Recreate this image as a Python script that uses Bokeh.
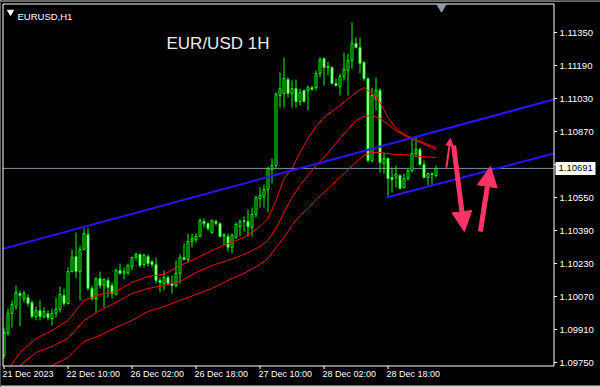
from bokeh.plotting import figure
from bokeh.models import Range1d, ColumnDataSource, Arrow, NormalHead
from bokeh.core.properties import value
from bokeh.embed import file_html
from bokeh.resources import INLINE

# ---------------- data (hourly EURUSD candles, bar index 0..108) ----------------
opens = [1.09784, 1.09891, 1.09988, 1.10022, 1.10084, 1.10060, 1.10065, 1.10041, 1.09973, 1.10002,
         1.09973, 1.09988, 1.09963, 1.09988, 1.10007, 1.10075, 1.10036, 1.10191, 1.10264, 1.10191,
         1.10298, 1.10371, 1.10109, 1.10060, 1.10157, 1.10123, 1.10148, 1.10123, 1.10080, 1.10196,
         1.10182, 1.10186, 1.10215, 1.10259, 1.10274, 1.10225, 1.10264, 1.10240, 1.10225, 1.10148,
         1.10133, 1.10162, 1.10133, 1.10123, 1.10182, 1.10259, 1.10249, 1.10337, 1.10346, 1.10361,
         1.10434, 1.10424, 1.10380, 1.10434, 1.10424, 1.10361, 1.10361, 1.10308, 1.10356, 1.10409,
         1.10434, 1.10434, 1.10405, 1.10468, 1.10545, 1.10555, 1.10589, 1.10686, 1.10705, 1.11045,
         1.11054, 1.11122, 1.11054, 1.11078, 1.11015, 1.11069, 1.11069, 1.11083, 1.11083, 1.11151,
         1.11224, 1.11185, 1.11180, 1.11103, 1.11088, 1.11137, 1.11166, 1.11214, 1.11297, 1.11277,
         1.11205, 1.11127, 1.10729, 1.11030, 1.11069, 1.10715, 1.10739, 1.10647, 1.10647, 1.10657,
         1.10598, 1.10642, 1.10681, 1.10763, 1.10783, 1.10710, 1.10647, 1.10666, 1.10657]
highs = [1.09915, 1.10012, 1.10051, 1.10123, 1.10099, 1.10099, 1.10080, 1.10051, 1.10022, 1.10051,
         1.10017, 1.10002, 1.10012, 1.10065, 1.10118, 1.10109, 1.10211, 1.10298, 1.10380, 1.10317,
         1.10400, 1.10400, 1.10123, 1.10162, 1.10191, 1.10157, 1.10162, 1.10138, 1.10206, 1.10230,
         1.10211, 1.10230, 1.10264, 1.10283, 1.10278, 1.10278, 1.10274, 1.10245, 1.10259, 1.10162,
         1.10196, 1.10172, 1.10172, 1.10245, 1.10274, 1.10327, 1.10375, 1.10375, 1.10375, 1.10448,
         1.10448, 1.10429, 1.10443, 1.10443, 1.10429, 1.10375, 1.10375, 1.10375, 1.10429, 1.10443,
         1.10458, 1.10492, 1.10501, 1.10560, 1.10598, 1.10613, 1.10700, 1.10739, 1.11059, 1.11156,
         1.11229, 1.11132, 1.11117, 1.11122, 1.11078, 1.11074, 1.11093, 1.11093, 1.11166, 1.11229,
         1.11229, 1.11209, 1.11185, 1.11127, 1.11151, 1.11253, 1.11248, 1.11399, 1.11326, 1.11326,
         1.11210, 1.11132, 1.11083, 1.11132, 1.11079, 1.10768, 1.10744, 1.10695, 1.10705, 1.10662,
         1.10666, 1.10686, 1.10841, 1.10846, 1.10792, 1.10729, 1.10671, 1.10671, 1.10705]
lows = [1.09769, 1.09881, 1.09920, 1.10007, 1.09925, 1.10041, 1.10022, 1.09963, 1.09954, 1.09954,
        1.09963, 1.09954, 1.09929, 1.09968, 1.09992, 1.10022, 1.10031, 1.10186, 1.10157, 1.10051,
        1.10293, 1.10099, 1.10051, 1.09992, 1.10109, 1.10017, 1.10065, 1.10060, 1.10075, 1.10177,
        1.10152, 1.10172, 1.10196, 1.10245, 1.10211, 1.10211, 1.10215, 1.10211, 1.10133, 1.10089,
        1.10099, 1.10128, 1.10084, 1.10114, 1.10133, 1.10245, 1.10235, 1.10308, 1.10332, 1.10356,
        1.10405, 1.10390, 1.10375, 1.10414, 1.10356, 1.10317, 1.10288, 1.10278, 1.10351, 1.10361,
        1.10385, 1.10361, 1.10361, 1.10453, 1.10501, 1.10501, 1.10477, 1.10618, 1.10695, 1.10986,
        1.10986, 1.11035, 1.10986, 1.10986, 1.10996, 1.11011, 1.10972, 1.11069, 1.11069, 1.11132,
        1.11093, 1.11142, 1.11098, 1.11088, 1.11045, 1.11117, 1.11045, 1.11175, 1.11272, 1.11151,
        1.11117, 1.10720, 1.10720, 1.10972, 1.10671, 1.10666, 1.10550, 1.10574, 1.10598, 1.10589,
        1.10594, 1.10632, 1.10671, 1.10744, 1.10705, 1.10642, 1.10608, 1.10608, 1.10647]
closes = [1.09896, 1.09988, 1.10031, 1.10089, 1.10075, 1.10084, 1.10036, 1.09973, 1.10002, 1.09973,
          1.09997, 1.09968, 1.09988, 1.10007, 1.10080, 1.10036, 1.10191, 1.10259, 1.10191, 1.10298,
          1.10375, 1.10109, 1.10060, 1.10157, 1.10123, 1.10152, 1.10114, 1.10084, 1.10196, 1.10182,
          1.10191, 1.10220, 1.10259, 1.10274, 1.10220, 1.10269, 1.10230, 1.10225, 1.10148, 1.10138,
          1.10162, 1.10133, 1.10123, 1.10182, 1.10259, 1.10249, 1.10337, 1.10351, 1.10361, 1.10438,
          1.10424, 1.10400, 1.10438, 1.10424, 1.10361, 1.10371, 1.10308, 1.10366, 1.10419, 1.10434,
          1.10438, 1.10409, 1.10468, 1.10550, 1.10560, 1.10589, 1.10691, 1.10705, 1.11049, 1.11078,
          1.11127, 1.11054, 1.11078, 1.11015, 1.11059, 1.11015, 1.11083, 1.11074, 1.11151, 1.11219,
          1.11180, 1.11180, 1.11103, 1.11093, 1.11137, 1.11171, 1.11214, 1.11297, 1.11277, 1.11200,
          1.11127, 1.10729, 1.11045, 1.11069, 1.10720, 1.10739, 1.10642, 1.10637, 1.10662, 1.10594,
          1.10642, 1.10681, 1.10763, 1.10783, 1.10710, 1.10647, 1.10666, 1.10662, 1.10691]
bars = list(range(len(closes)))

# moving-average lines (bar index -> price)
ma_bars = [0, 4, 8, 12, 16, 20, 24, 28, 32, 36, 40, 44, 48, 52, 56, 60, 64, 66, 68, 70,
           72, 74, 76, 78, 80, 84, 88, 90, 92, 94, 96, 98, 100, 104, 108]
ma_fast = [1.09687, 1.09798, 1.09866, 1.09905, 1.09954, 1.10051, 1.10080, 1.10094, 1.10138, 1.10167,
           1.10177, 1.10220, 1.10254, 1.10293, 1.10327, 1.10356, 1.10409, 1.10448, 1.10535, 1.10642,
           1.10691, 1.10768, 1.10836, 1.10894, 1.10938, 1.10996, 1.11059, 1.11083, 1.11054, 1.11011,
           1.10938, 1.10885, 1.10856, 1.10822, 1.10792]
ma_mid = [1.09614, 1.09735, 1.09798, 1.09828, 1.09866, 1.09954, 1.10002, 1.10041, 1.10084, 1.10109,
          1.10123, 1.10143, 1.10186, 1.10220, 1.10245, 1.10274, 1.10312, 1.10342, 1.10400, 1.10477,
          1.10550, 1.10608, 1.10657, 1.10705, 1.10744, 1.10836, 1.10923, 1.10943, 1.10948, 1.10933,
          1.10904, 1.10875, 1.10851, 1.10817, 1.10783]
ma_slow = [1.09469, 1.09566, 1.09663, 1.09735, 1.09774, 1.09852, 1.09881, 1.09920, 1.09954, 1.09997,
           1.10021, 1.10051, 1.10080, 1.10109, 1.10148, 1.10182, 1.10225, 1.10254, 1.10308, 1.10356,
           1.10414, 1.10463, 1.10497, 1.10540, 1.10574, 1.10647, 1.10720, 1.10754, 1.10768, 1.10768,
           1.10763, 1.10758, 1.10758, 1.10749, 1.10744]

# channel lines (bar index, price)
upper_line_x = [-0.1, 137.4]
upper_line_y = [1.10302, 1.11025]
lower_line_x = [95.6, 137.4]
lower_line_y = [1.10550, 1.10763]

# arrows (bar index, price): start -> end
arrow_small = [110.6, 1.10695, 111.6, 1.10836]
arrow_down = [112.4, 1.10802, 115.1, 1.10385]
arrow_up = [119.1, 1.10385, 121.6, 1.10700]

last_price = 1.10691
ytick_values = [1.09750, 1.09910, 1.10070, 1.10230, 1.10390, 1.10550, 1.10710,
                1.10870, 1.11030, 1.11190, 1.11350]
xtick_bars = [0, 16, 32, 48, 64, 80, 96]
xtick_labels = ["21 Dec 2023", "22 Dec 10:00", "26 Dec 02:00", "26 Dec 18:00",
                "27 Dec 10:00", "28 Dec 02:00", "28 Dec 18:00"]

# ---------------- geometry (the whole canvas is the data frame) ----------------
W, H = 600, 387
PX_PER_BAR = 4.0
BAR0_PX = 3.5
PX_PER_PRICE = 20625.0
REF_PRICE, REF_PY = 1.0975, 362.0


def bx(px):
    """canvas x pixel -> bar coordinate"""
    return (px - BAR0_PX) / PX_PER_BAR


def pr(py):
    """canvas y pixel -> price coordinate"""
    return REF_PRICE + (REF_PY - py) / PX_PER_PRICE


CL, CR, CT, CB = 2.5, 553.5, 3.5, 365.5   # chart box edges (px)

p = figure(width=W, height=H, x_range=Range1d(bx(0), bx(W)), y_range=Range1d(pr(H), pr(0)),
           output_backend="svg", toolbar_location=None, x_axis_type=None, y_axis_type=None,
           min_border=0)
p.background_fill_color = "black"
p.border_fill_color = "black"
p.outline_line_color = None
p.grid.visible = False

# current price line
p.segment(x0=[bx(CL)], y0=[last_price], x1=[bx(CR)], y1=[last_price],
          line_color="#7f8ea3", line_width=1)

# candles
up = [c >= o for o, c in zip(opens, closes)]
src = ColumnDataSource(dict(
    x=bars, h=highs, l=lows,
    top=[max(o, c) for o, c in zip(opens, closes)],
    bot=[min(o, c) for o, c in zip(opens, closes)],
    fill=["black" if u else "white" for u in up],
))
p.segment(x0="x", y0="l", x1="x", y1="h", source=src, line_color="#00ff00", line_width=1)
p.vbar(x="x", width=0.5, top="top", bottom="bot", source=src, fill_color="fill",
       line_color="#00ff00", line_width=1)

# moving averages
for ma in (ma_fast, ma_mid, ma_slow):
    p.line(ma_bars, ma, line_color="#ff0000", line_width=1)

# channel
p.line(upper_line_x, upper_line_y, line_color="#2a14ff", line_width=2)
p.line(lower_line_x, lower_line_y, line_color="#2a14ff", line_width=2)

# mask everything outside the chart box
p.quad(left=[bx(0), bx(CR), bx(0), bx(0)], right=[bx(CL), bx(W), bx(W), bx(W)],
       bottom=[pr(H), pr(H), pr(H), pr(CT)], top=[pr(0), pr(0), pr(CB), pr(0)],
       fill_color="black", line_color=None)
# thin window bands at the very top / bottom
p.quad(left=[bx(0)], right=[bx(W)], bottom=[pr(1.5)], top=[pr(0)],
       fill_color="#6f6f6f", line_color=None)
p.quad(left=[bx(0)], right=[bx(W)], bottom=[pr(H)], top=[pr(H - 2)],
       fill_color="#d0d0d0", line_color=None)

# chart frame
p.quad(left=[bx(CL)], right=[bx(CR)], bottom=[pr(CB)], top=[pr(CT)],
       fill_color=None, line_color="white", line_width=1)

# price-scale ticks and labels
p.segment(x0=[bx(CR)] * len(ytick_values), y0=ytick_values,
          x1=[bx(CR + 3)] * len(ytick_values), y1=ytick_values,
          line_color="white", line_width=1)
p.text(x=[bx(559)] * len(ytick_values), y=ytick_values,
       text=["%.5f" % v for v in ytick_values], text_color="white",
       text_font=value("Liberation Sans"), text_font_size=value("9.5px"),
       text_align="left", text_baseline="middle")

# time-scale ticks and labels
p.segment(x0=xtick_bars, y0=[pr(CB)] * len(xtick_bars),
          x1=xtick_bars, y1=[pr(CB + 3)] * len(xtick_bars),
          line_color="white", line_width=1)
p.text(x=[b - 0.4 for b in xtick_bars], y=[pr(368.5)] * len(xtick_bars), text=xtick_labels,
       text_color="white", text_font=value("Liberation Sans"),
       text_font_size=value("9px"), text_align="left", text_baseline="top")

# current price box on the price scale
p.quad(left=[bx(555)], right=[bx(595)], bottom=[last_price - 6.5 / PX_PER_PRICE],
       top=[last_price + 6.5 / PX_PER_PRICE], fill_color="white", line_color=None)
p.text(x=[bx(558)], y=[last_price], text=["%.5f" % last_price], text_color="black",
       text_font=value("Liberation Sans"), text_font_size=value("9.5px"),
       text_align="left", text_baseline="middle")

# arrows
acol = "#ff3464"
p.add_layout(Arrow(end=NormalHead(size=7, fill_color=acol, line_color=acol),
                   x_start=arrow_small[0], y_start=arrow_small[1],
                   x_end=arrow_small[2], y_end=arrow_small[3],
                   line_color=acol, line_width=2))
for a in (arrow_down, arrow_up):
    p.add_layout(Arrow(end=NormalHead(size=20, fill_color=acol, line_color=acol),
                       x_start=a[0], y_start=a[1], x_end=a[2], y_end=a[3],
                       line_color=acol, line_width=5))

# chart-shift marker and header triangle
p.scatter([bx(441)], [pr(6.5)], marker="inverted_triangle", size=9,
          fill_color="#8a9aab", line_color="#8a9aab")
p.scatter([bx(10)], [pr(11.5)], marker="inverted_triangle", size=6,
          fill_color="white", line_color="white")

# header texts
p.text(x=[bx(17)], y=[pr(15.5)], text=["EURUSD,H1"], text_color="white",
       text_font=value("Liberation Sans"), text_font_size=value("9.5px"),
       text_align="left", text_baseline="alphabetic")
p.text(x=[bx(166)], y=[pr(43)], text=["EUR/USD 1H"], text_color="#ececec",
       text_font=value("Liberation Sans"), text_font_size=value("17px"),
       text_align="left", text_baseline="alphabetic")

open("out.html", "w").write(file_html(p, INLINE))
